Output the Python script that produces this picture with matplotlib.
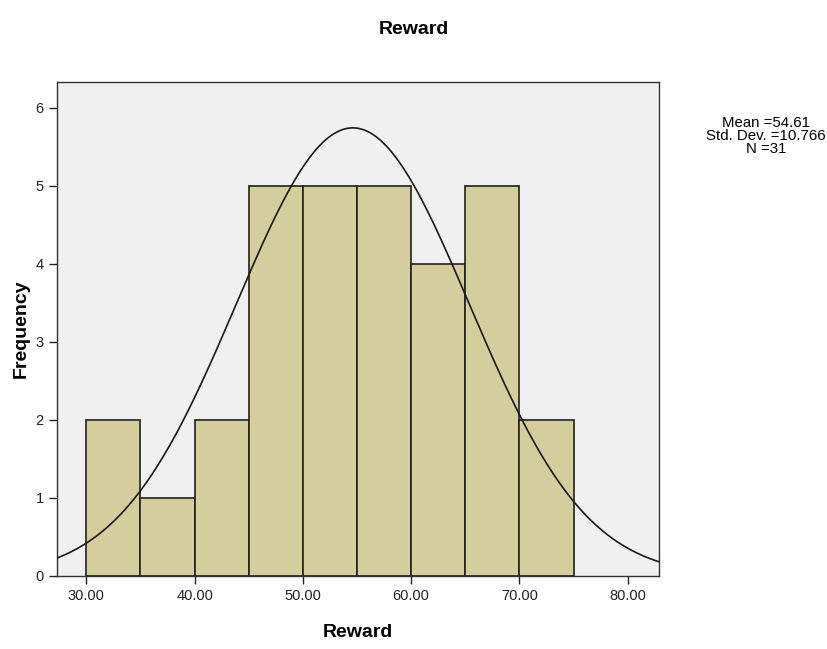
import numpy as np
import matplotlib.pyplot as plt

# histogram data
bin_edges = [30, 35, 40, 45, 50, 55, 60, 65, 70, 75]
counts = [2, 1, 2, 5, 5, 5, 4, 5, 2]
x_ticks = [30, 40, 50, 60, 70, 80]
y_ticks = [0, 1, 2, 3, 4, 5, 6]
mean = 54.61
std_dev = 10.766
n_obs = 31

plt.rcParams['font.family'] = ['Liberation Sans', 'DejaVu Sans']

fig = plt.figure(figsize=(8.27, 6.49), dpi=100)
ax = fig.add_axes([0.069, 0.1125, 0.728, 0.761])
ax.set_facecolor('#f0f0f0')

edges = np.array(bin_edges, dtype=float)
ax.bar(edges[:-1], counts, width=np.diff(edges), align='edge',
       color='#d3ce9c', edgecolor='#22221a', linewidth=1.2, zorder=2)

# normal curve scaled to the histogram (N * bin width * pdf)
bw = edges[1] - edges[0]
xs = np.linspace(27.3, 82.9, 400)
ys = n_obs * bw * np.exp(-0.5 * ((xs - mean) / std_dev) ** 2) / (std_dev * np.sqrt(2 * np.pi))
ax.plot(xs, ys, color='#1a1a1a', linewidth=1.2, zorder=3)

ax.set_xlim(27.3, 82.9)
ax.set_ylim(0, 6.33)
ax.set_xticks(x_ticks)
ax.set_xticklabels([f'{t:.2f}' for t in x_ticks])
ax.set_yticks(y_ticks)
ax.tick_params(direction='out', length=6, width=1, labelsize=10.5, colors='#222222')
for s in ax.spines.values():
    s.set_color('#333333')
    s.set_linewidth(1.0)

ax.set_xlabel('Reward', fontsize=14, fontweight='bold', labelpad=15)
ax.set_ylabel('Frequency', fontsize=14, fontweight='bold', labelpad=4)
fig.text(0.5, 0.955, 'Reward', ha='center', va='center', fontsize=14, fontweight='bold')

fig.text(0.926, 0.79,
         f'Mean ={mean:.2f}\nStd. Dev. ={std_dev:.3f}\nN ={n_obs}',
         ha='center', va='center', fontsize=10.8, linespacing=0.92)

fig.savefig('out.png', dpi=100)
